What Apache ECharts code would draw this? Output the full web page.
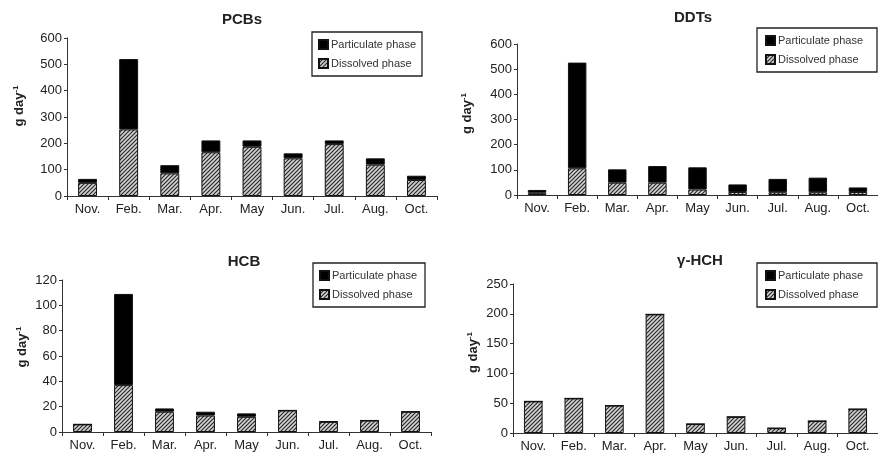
<!DOCTYPE html>
<html>
<head>
<meta charset="utf-8">
<script src="https://cdn.jsdelivr.net/npm/echarts@6/dist/echarts.min.js"></script>
<style>
html,body{margin:0;padding:0;background:#fff;}
#c{width:878px;height:458px;}
</style>
</head>
<body>
<div id="c"></div>
<script>
// ---- data ----
const months = ['Nov.', 'Feb.', 'Mar.', 'Apr.', 'May', 'Jun.', 'Jul.', 'Aug.', 'Oct.'];
const titles = ['PCBs', 'DDTs', 'HCB', '\u03b3-HCH'];
const seriesNames = ['Particulate phase', 'Dissolved phase'];

const pcbDissolved    = [50, 253, 86, 166, 187, 143, 197, 119, 61];
const pcbParticulate  = [15, 267, 31, 45, 24, 19, 14, 24, 16];

const ddtDissolved    = [9, 106, 49, 49, 22, 12, 11, 11, 12];
const ddtParticulate  = [11, 420, 53, 66, 88, 30, 53, 58, 18];

const hcbDissolved    = [6, 37, 16, 13, 12, 17, 8, 9, 16];
const hcbParticulate  = [0, 72, 2.6, 3, 2.7, 0, 0.4, 0.2, 0];

const hchDissolved    = [53, 58, 46, 199, 15, 27, 8, 20, 40];
const hchParticulate  = [0, 0, 0, 0, 0, 0, 0, 0, 0];

const yMax = [600, 600, 120, 250];
const yStep = [100, 100, 20, 50];

// ---- styling ----
function hatchCanvas() {
  const c = document.createElement('canvas');
  c.width = 4; c.height = 4;
  const g = c.getContext('2d');
  g.fillStyle = '#d2d2d2';
  g.fillRect(0, 0, 4, 4);
  g.strokeStyle = '#2a2a2a';
  g.lineWidth = 1.2;
  g.beginPath();
  g.moveTo(-1, 5); g.lineTo(5, -1);
  g.moveTo(-1, 1); g.lineTo(1, -1);
  g.moveTo(3, 5); g.lineTo(5, 3);
  g.stroke();
  return c;
}
const hatch = { image: hatchCanvas(), repeat: 'repeat' };
const FONT = 'Arial, "Liberation Sans", sans-serif';

const grids = [
  { left: 67, top: 38, width: 370, height: 158 },
  { left: 517, top: 44, width: 364, height: 151 },
  { left: 62, top: 280, width: 369, height: 152 },
  { left: 513, top: 284, width: 366, height: 149 }
];
const titlePos = [[237, 7], [688, 5], [239, 249], [695, 248]];
const legendPos = [[312, 32], [757, 28], [313, 263], [757, 263]];
const legendPad = [[7, 6, 7, 6], [7, 14, 7, 8], [7, 8, 7, 6], [7, 14, 7, 8]];
const nameGaps = [40, 42, 32, 32];
const nameShift = [22, 12, 18, 12];

const dissolved = [pcbDissolved, ddtDissolved, hcbDissolved, hchDissolved];
const particulate = [pcbParticulate, ddtParticulate, hcbParticulate, hchParticulate];

const option = {
  backgroundColor: '#fff',
  animation: false,
  textStyle: { fontFamily: FONT },
  title: titles.map((t, i) => ({
    text: t,
    left: titlePos[i][0],
    top: titlePos[i][1],
    textAlign: 'center',
    textStyle: { fontFamily: FONT, fontSize: 15, fontWeight: 'bold', color: '#222' }
  })),
  legend: legendPos.map((p, i) => ({
    left: p[0], top: p[1],
    orient: 'vertical',
    selectedMode: false,
    icon: 'rect',
    data: seriesNames,
    backgroundColor: '#fff',
    borderColor: '#222',
    borderWidth: 1.3,
    borderRadius: 0,
    padding: legendPad[i],
    itemGap: 8,
    itemWidth: 9,
    itemHeight: 9,
    textStyle: { fontFamily: FONT, fontSize: 11, color: '#333', padding: [0, 0, 0, -2] }
  })),
  grid: grids.map(g => Object.assign({ containLabel: false }, g)),
  xAxis: grids.map((g, i) => ({
    type: 'category',
    gridIndex: i,
    data: months,
    axisLine: { lineStyle: { color: '#333', width: 1 } },
    axisTick: { show: true, length: 4, lineStyle: { color: '#333' } },
    axisLabel: { fontFamily: FONT, fontSize: 13, color: '#222', margin: 7 }
  })),
  yAxis: grids.map((g, i) => ({
    type: 'value',
    gridIndex: i,
    min: 0,
    max: yMax[i],
    interval: yStep[i],
    name: '{a|g day}{b|-1}',
    nameLocation: 'middle',
    nameGap: nameGaps[i],
    nameTextStyle: {
      padding: [0, 0, 0, nameShift[i]],
      rich: {
        a: { fontFamily: FONT, fontSize: 13, fontWeight: 'bold', color: '#222', lineHeight: 15 },
        b: { fontFamily: FONT, fontSize: 8, fontWeight: 'bold', color: '#222', verticalAlign: 'top', lineHeight: 15 }
      }
    },
    splitLine: { show: false },
    axisLine: { show: true, lineStyle: { color: '#333', width: 1 } },
    axisTick: { show: true, length: 3, lineStyle: { color: '#333' } },
    axisLabel: { fontFamily: FONT, fontSize: 13, color: '#222', margin: 5 }
  })),
  series: []
};

for (let i = 0; i < 4; i++) {
  option.series.push({
    name: seriesNames[1],
    type: 'bar',
    stack: 's' + i,
    xAxisIndex: i, yAxisIndex: i,
    barWidth: '46%',
    data: dissolved[i],
    itemStyle: { color: hatch, borderColor: '#111', borderWidth: 1 }
  });
  option.series.push({
    name: seriesNames[0],
    type: 'bar',
    stack: 's' + i,
    xAxisIndex: i, yAxisIndex: i,
    barWidth: '46%',
    data: particulate[i],
    itemStyle: { color: '#000', borderColor: '#111', borderWidth: 1 }
  });
}

const chart = echarts.init(document.getElementById('c'), null, { renderer: 'canvas' });
chart.setOption(option);
</script>
</body>
</html>
